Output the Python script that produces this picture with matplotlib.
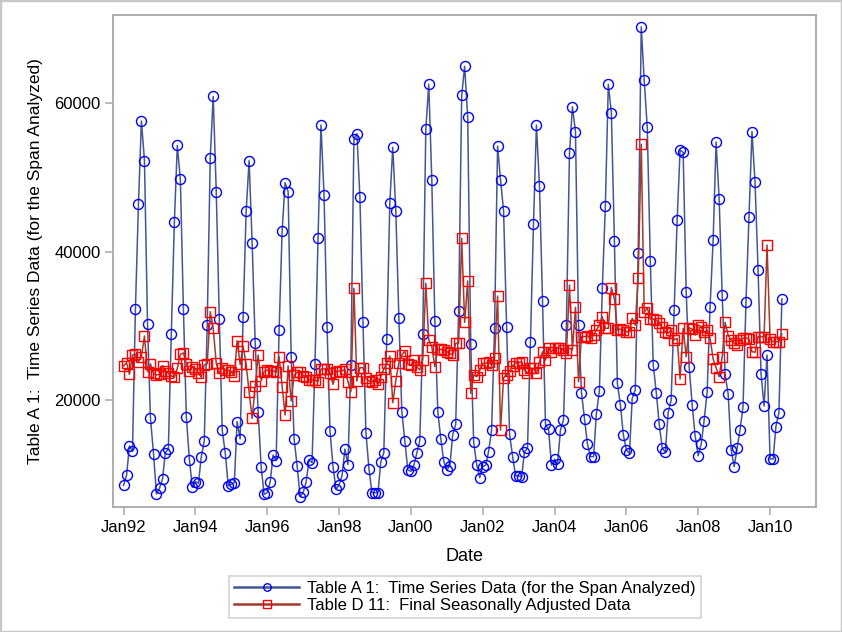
import pandas as pd
import matplotlib
matplotlib.use('Agg')
import matplotlib.pyplot as plt
import matplotlib.dates as mdates
from matplotlib.patches import Rectangle

plt.rcParams['font.family'] = ['Liberation Sans', 'DejaVu Sans']

# ── Data (monthly, Jan 1992 – May 2010) ──────────────────────────────────────
dates = pd.date_range('1992-01-01', periods=221, freq='MS')

# Table A 1: original series
a1 = [
    8490, 9850, 13800, 13080, 32270, 46480, 57620, 52270, 30200, 17530, 12760, 7320,
    8090, 9390, 12900, 13390, 28950, 43960, 54340, 49760, 32270, 17700, 11950, 8220,
    8980, 8770, 12270, 14470, 30110, 52680, 60950, 48090, 30970, 15900, 12810, 8420,
    8630, 8850, 17080, 14740, 31190, 45440, 52270, 41220, 27690, 18430, 10930, 7280,
    7500, 8990, 12580, 11820, 29390, 42790, 49310, 48090, 25750, 14740, 11060, 6970,
    7550, 8990, 11910, 11550, 24900, 41800, 57080, 47690, 29850, 15770, 10920, 7950,
    8540, 9840, 13390, 11290, 24720, 55200, 55920, 47330, 30560, 15590, 10740, 7500,
    7500, 7500, 11640, 12900, 28230, 46570, 54070, 45490, 31100, 18430, 14470, 10560,
    10380, 11230, 12810, 14520, 28860, 56500, 62570, 49670, 30650, 18430, 14700, 11680,
    10520, 11140, 15280, 16720, 31960, 61080, 65000, 58120, 27510, 14290, 11230, 9530,
    11010, 11230, 13030, 15950, 29660, 54250, 49670, 45490, 29800, 15370, 12360, 9800,
    9750, 9660, 13030, 13480, 27870, 43730, 57080, 48900, 33350, 16720, 16040, 11230,
    12000, 11370, 15950, 17300, 30110, 53260, 59550, 56180, 30110, 20990, 17440, 14020,
    12360, 12360, 18070, 21220, 35060, 46210, 62570, 58750, 41440, 22250, 19330, 15280,
    13260, 12810, 20220, 21350, 39870, 70320, 63110, 56770, 38790, 24720, 20990, 16720,
    13480, 12940, 18290, 20000, 32140, 44270, 53710, 53400, 34520, 24500, 19330, 15150,
    12490, 14070, 17210, 21080, 32590, 41580, 54790, 47100, 34160, 23460, 20760, 13260,
    11010, 13570, 15950, 19100, 33260, 44720, 56180, 49350, 37530, 23550, 19190, 26070,
    12040, 12040, 16400, 18290, 33620,
]

# Table D 11: final seasonally adjusted series
d11 = [
    24590, 25030, 23460, 26070, 26160, 25170, 25840, 28630, 23820, 24860, 23600, 23370,
    23460, 24630, 23910, 23600, 23240, 23060, 24270, 26160, 26340, 24900, 23910, 24500,
    24180, 23690, 23060, 24720, 24900, 31910, 29660, 24950, 23600, 24360, 24000, 24050,
    23820, 23280, 28000, 24810, 27280, 24810, 21080, 17530, 21930, 26070, 22610, 23820,
    24050, 23910, 23960, 23730, 25840, 21800, 17980, 24590, 19870, 23370, 23730, 23820,
    23280, 23150, 22700, 22700, 22700, 22470, 24180, 24180, 24180, 23600, 22110, 23820,
    23910, 23910, 24140, 22470, 21120, 35060, 22560, 24360, 24360, 22920, 22560, 22470,
    22650, 22110, 23150, 24180, 24950, 25930, 19640, 22610, 25030, 26070, 26610, 24810,
    24720, 25390, 24500, 24050, 25390, 35730, 28090, 27190, 24500, 26830, 26830, 26740,
    26520, 26290, 26070, 27640, 27640, 41800, 30470, 36050, 20900, 23370, 23150, 24050,
    24950, 24950, 25170, 24720, 25710, 34020, 15950, 23010, 23370, 23910, 24630, 24950,
    25030, 25170, 24050, 23600, 24270, 24270, 23600, 25170, 26520, 25390, 26970, 26520,
    27060, 27060, 26970, 26740, 26290, 35510, 26740, 32500, 22470, 28540, 28540, 28680,
    28320, 28770, 29440, 30110, 31240, 29660, 29660, 35150, 33620, 29440, 29570, 29440,
    29220, 29220, 31010, 30110, 36410, 54480, 31820, 32450, 30920, 30920, 30790, 30340,
    29800, 29210, 28990, 29440, 28090, 28320, 22830, 29660, 25840, 29750, 29570, 28770,
    30110, 29890, 29120, 29440, 28320, 25530, 24360, 23150, 25840, 30470, 28680, 28090,
    27640, 27420, 28090, 28320, 28410, 28200, 26520, 26430, 28540, 28540, 28540, 40900,
    28230, 27870, 27870, 27870, 28900,
]

LABEL_A1 = 'Table A 1:  Time Series Data (for the Span Analyzed)'
LABEL_D11 = 'Table D 11:  Final Seasonally Adjusted Data'

# ── Plot ──────────────────────────────────────────────────────────────────────
W, H = 842, 632
fig = plt.figure(figsize=(W / 100, H / 100), dpi=100)
ax = fig.add_axes([113 / W, 1 - 507 / H, (816 - 113) / W, (507 - 15) / H])

ax.plot(dates, a1, color='#445694', lw=1.1, marker='o', ms=7.2,
        mfc='none', mec='#0000FF', mew=1.0, label=LABEL_A1)
ax.plot(dates, d11, color='#A23A2E', lw=1.1, marker='s', ms=7.0,
        mfc='none', mec='#FF0000', mew=1.0, label=LABEL_D11)

ax.set_xlim(pd.Timestamp('1991-09-16'), pd.Timestamp('2011-04-13'))
ax.set_ylim(5570, 71920)
ax.set_yticks([20000, 40000, 60000])
ax.xaxis.set_major_locator(mdates.YearLocator(2, month=1, day=1))
ax.xaxis.set_major_formatter(mdates.DateFormatter('%b%y'))

grey = '#A8A8A8'
for s in ax.spines.values():
    s.set_color(grey)
    s.set_linewidth(1.3)
ax.tick_params(direction='out', length=6, width=1.1, color=grey,
               labelsize=12, labelcolor='black', pad=3)

ax.set_xlabel('Date', fontsize=13, labelpad=10)
ax.set_ylabel(LABEL_A1, fontsize=12.5, labelpad=8)

leg = fig.legend(loc='center', bbox_to_anchor=(465 / W, 1 - 596.7 / H),
                 ncol=1, fontsize=12, frameon=True, fancybox=False,
                 edgecolor='#C8C8C8', handlelength=3.9, handletextpad=0.45,
                 borderpad=0.3, labelspacing=0.12, borderaxespad=0,
                 markerscale=0.75)
leg.get_frame().set_linewidth(1.2)
for h in leg.get_lines():
    h.set_linewidth(1.8)

# Outer graph border
fig.patches.append(Rectangle((0, 0), 1, 1, transform=fig.transFigure,
                             fill=False, edgecolor='#C8C8C8', lw=2.5))

fig.savefig('out.png', dpi=100)
